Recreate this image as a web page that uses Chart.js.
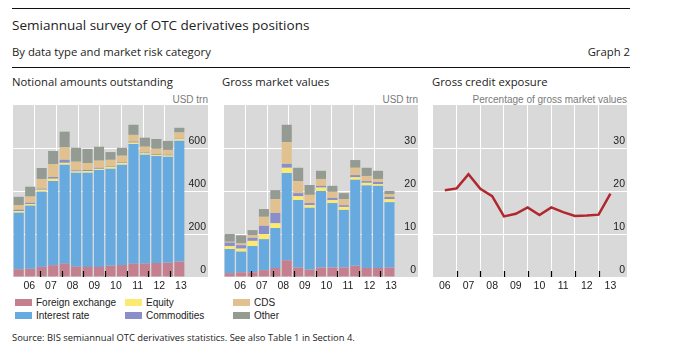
<!DOCTYPE html>
<html>
<head>
<meta charset="utf-8">
<script src="https://cdn.jsdelivr.net/npm/chart.js@4.4.1/dist/chart.umd.min.js"></script>
<style>
  body { margin: 0; width: 680px; height: 362px; background: #fff; position: relative; overflow: hidden; color: #222; }
  .t { position: absolute; line-height: 1; white-space: nowrap; font-family: "Open Sans", sans-serif; }
  .rule { position: absolute; left: 12px; width: 618px; height: 0; border-top: 1.5px solid #111; }
  .unit { position: absolute; line-height: 1; white-space: nowrap; font: 10px "Liberation Sans", Arial, sans-serif; color: #7a7a7a; }
  .panel { position: absolute; top: 105px; }
  #legend { position: absolute; left: 15px; top: 297px; font: 10px "Liberation Sans", Arial, sans-serif; color: #222; }
  .item { position: absolute; white-space: nowrap; line-height: 11px; }
  .sw { display: inline-block; width: 17px; height: 7px; margin-right: 4px; vertical-align: 0px; }
</style>
</head>
<body>
<div class="rule" style="top:8px"></div>
<div class="t" style="left:12px;top:19px;font-size:13.5px">Semiannual survey of OTC derivatives positions</div>
<div class="t" style="left:12px;top:46px;font-size:11.3px">By data type and market risk category</div>
<div class="t" style="right:50px;top:46px;font-size:11.3px">Graph 2</div>
<div class="rule" style="top:67px"></div>

<div class="t" style="left:12px;top:76px;font-size:11.3px">Notional amounts outstanding</div>
<div class="t" style="left:222px;top:76px;font-size:11.3px">Gross market values</div>
<div class="t" style="left:432px;top:76px;font-size:11.3px">Gross credit exposure</div>

<div class="unit" style="right:472px;top:94px">USD trn</div>
<div class="unit" style="right:262px;top:94px">USD trn</div>
<div class="unit" style="right:53px;top:94px">Percentage of gross market values</div>

<div class="panel" style="left:13px"><canvas id="notional" width="195" height="190"></canvas></div>
<div class="panel" style="left:224px"><canvas id="gmv" width="194" height="190"></canvas></div>
<div class="panel" style="left:433px"><canvas id="gce" width="194" height="190"></canvas></div>

<div id="legend"></div>
<div class="t" style="left:12px;top:333px;font-size:9.4px">Source: BIS semiannual OTC derivatives statistics. See also Table 1 in Section 4.</div>

<script>
const periods = ['Jun 06', 'Dec 06', 'Jun 07', 'Dec 07', 'Jun 08', 'Dec 08', 'Jun 09', 'Dec 09',
                 'Jun 10', 'Dec 10', 'Jun 11', 'Dec 11', 'Jun 12', 'Dec 12', 'Jun 13'];

const seriesNames = ['Foreign exchange', 'Interest rate', 'Equity', 'Commodities', 'CDS', 'Other'];
const seriesColors = ['#c4808f', '#66aadf', '#fbe970', '#8b8fc9', '#e1c18f', '#949b92'];

// Notional amounts outstanding, USD trn
const notionalFx    = [36, 38, 47, 55, 62, 48, 47, 47, 52, 56, 62, 62, 65, 66, 72];
const notionalIr    = [263, 294, 350, 392, 460, 437, 438, 451, 451, 466, 557, 507, 498, 493, 562];
const notionalEq    = [8, 7, 9, 10, 9, 6, 8, 5, 8, 8, 6, 6, 5, 6, 7];
const notionalComm  = [6, 6, 5, 8, 14, 5, 5, 5, 3, 3, 5, 4, 4, 4, 2];
const notionalCds   = [22, 29, 45, 60, 58, 40, 32, 33, 31, 31, 31, 27, 24, 22, 29];
const notionalOther = [38, 46, 51, 61, 73, 65, 66, 65, 36, 37, 47, 42, 46, 42, 22];

// Gross market values, USD trn
const gmvFx    = [0.9, 1.1, 1.1, 1.6, 2.1, 3.9, 2.2, 1.7, 2.2, 2.2, 2.2, 2.6, 2.1, 2.1, 2.2];
const gmvIr    = [5.6, 4.8, 6.1, 7.2, 9.3, 20.3, 15.7, 14.4, 17.8, 15.0, 13.4, 20.0, 19.2, 19.1, 15.2];
const gmvEq    = [0.7, 0.7, 1.2, 1.2, 1.1, 1.2, 0.9, 0.6, 0.8, 0.7, 0.7, 0.6, 0.6, 0.4, 0.7];
const gmvComm  = [0.8, 0.8, 0.7, 1.9, 2.4, 0.9, 0.7, 0.5, 0.4, 0.5, 0.4, 0.5, 0.4, 0.5, 0.5];
const gmvCds   = [0.2, 0.4, 0.6, 2.1, 3.2, 5.1, 2.8, 1.9, 1.6, 1.4, 1.4, 1.7, 1.2, 0.7, 0.7];
const gmvOther = [1.8, 1.9, 1.2, 1.8, 2.1, 4.0, 3.1, 2.3, 1.9, 1.4, 1.4, 1.8, 1.9, 1.9, 0.7];

// Gross credit exposure, percentage of gross market values
const creditExposure = [20.2, 20.6, 23.9, 20.5, 18.8, 14.1, 14.7, 16.2, 14.4, 16.2, 15.1, 14.2, 14.3, 14.5, 19.4];

const tickFont = { family: '"Liberation Sans", Arial, sans-serif', size: 10.5 };
const clear = 'rgba(0,0,0,0)';

// end of each half-year period as a fractional year
function periodEnd(p) {
    const yr = 2000 + parseInt(p.slice(4), 10);
    return p.startsWith('Jun') ? yr + 0.5 : yr + 1;
}

// grey plot background and the short inward year ticks
const panelPlugin = {
    id: 'panel',
    beforeDraw(chart) {
        const a = chart.chartArea;
        const ctx = chart.ctx;
        ctx.save();
        ctx.fillStyle = '#d9d9d9';
        ctx.fillRect(a.left, a.top, a.right - a.left, a.bottom - a.top);
        ctx.restore();
    },
    afterDatasetsDraw(chart) {
        const a = chart.chartArea;
        const ctx = chart.ctx;
        const s = chart.scales.yr;
        ctx.save();
        ctx.strokeStyle = '#000';
        ctx.lineWidth = 1.2;
        for (let y = 2007; y <= 2013; y++) {
            const px = Math.round(s.getPixelForValue(y)) + 0.5;
            ctx.beginPath();
            ctx.moveTo(px, a.bottom);
            ctx.lineTo(px, a.bottom - 6);
            ctx.stroke();
        }
        ctx.restore();
    }
};

function yearAxis(max) {
    return {
        type: 'linear',
        position: 'bottom',
        min: 2006,
        max: max,
        afterBuildTicks: (s) => {
            const t = [];
            for (let v = 2006; v <= max; v += 0.5) t.push({ value: v });
            s.ticks = t;
        },
        afterFit: (s) => { s.height = 18; s.paddingLeft = 0; s.paddingRight = 0; },
        border: { display: false },
        grid: {
            drawTicks: false,
            lineWidth: 1,
            color: (c) => {
                const v = c.tick ? c.tick.value : null;
                return (v !== null && Number.isInteger(v) && v > 2006 && v < 2014) ? '#ffffff' : clear;
            }
        },
        ticks: {
            autoSkip: false,
            maxRotation: 0,
            padding: 3,
            color: '#222',
            font: tickFont,
            callback: (v) => (v % 1 === 0.5 && v < 2014) ? String(Math.floor(v)).slice(2) : ''
        }
    };
}

function valueAxis(max, step, stacked) {
    return {
        position: 'right',
        stacked: stacked,
        min: 0,
        max: max,
        afterFit: (s) => { s.width = 0; s.paddingTop = 0; s.paddingBottom = 0; },
        border: { display: false },
        grid: {
            drawTicks: false,
            lineWidth: 1,
            color: (c) => {
                const v = c.tick ? c.tick.value : null;
                return (v !== null && v > 0 && v < max) ? '#ffffff' : clear;
            }
        },
        ticks: {
            stepSize: step,
            mirror: true,
            padding: -2,
            labelOffset: -7,
            color: '#222',
            font: tickFont,
            callback: (v) => (v >= max ? '' : v)
        }
    };
}

function baseOptions(scales) {
    return {
        responsive: false,
        animation: false,
        devicePixelRatio: 1,
        layout: { padding: 0, autoPadding: false },
        plugins: { legend: { display: false }, tooltip: { enabled: false } },
        scales: scales
    };
}

function barPanel(id, series, max, step) {
    new Chart(document.getElementById(id), {
        type: 'bar',
        data: {
            labels: periods.concat(['', '']),
            datasets: series.map((d, i) => ({
                label: seriesNames[i],
                data: d,
                backgroundColor: seriesColors[i],
                borderWidth: 0,
                categoryPercentage: 1,
                barPercentage: 0.88
            }))
        },
        options: baseOptions({
            x: { display: false, stacked: true },
            yr: yearAxis(2014.5),
            y: valueAxis(max, step, true)
        }),
        plugins: [panelPlugin]
    });
}

// legend: three columns, two rows
const legendOrder = [[0, 2, 4], [1, 3, 5]];
const colX = [0, 110, 218];
const legend = document.getElementById('legend');
legendOrder.forEach((row, r) => {
    row.forEach((idx, c) => {
        const el = document.createElement('div');
        el.className = 'item';
        el.style.left = colX[c] + 'px';
        el.style.top = (r * 12.5) + 'px';
        el.innerHTML = '<span class="sw" style="background:' + seriesColors[idx] + '"></span>' + seriesNames[idx];
        legend.appendChild(el);
    });
});

barPanel('notional', [notionalFx, notionalIr, notionalEq, notionalComm, notionalCds, notionalOther], 800, 200);
barPanel('gmv', [gmvFx, gmvIr, gmvEq, gmvComm, gmvCds, gmvOther], 40, 10);

new Chart(document.getElementById('gce'), {
    type: 'line',
    data: {
        datasets: [{
            data: periods.map((p, i) => ({ x: periodEnd(p), y: creditExposure[i] })),
            borderColor: '#b0282d',
            borderWidth: 2.5,
            pointRadius: 0,
            tension: 0,
            xAxisID: 'yr'
        }]
    },
    options: baseOptions({
        yr: yearAxis(2014.2),
        y: valueAxis(40, 10, false)
    }),
    plugins: [panelPlugin]
});
</script>
</body>
</html>
